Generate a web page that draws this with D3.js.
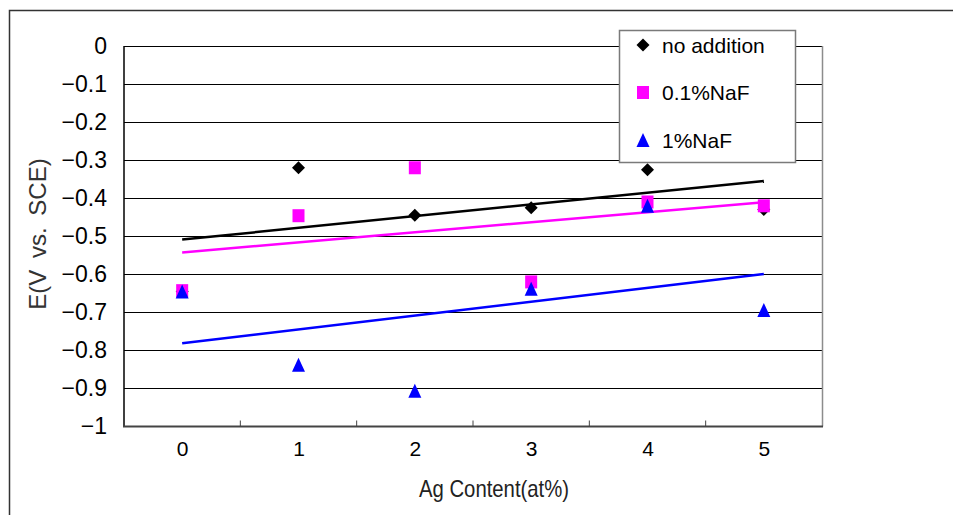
<!DOCTYPE html>
<html>
<head>
<meta charset="utf-8">
<script src="https://cdn.jsdelivr.net/npm/d3@7"></script>
<style>
  html, body { margin: 0; padding: 0; background: #fff; }
  svg { display: block; font-family: "Liberation Sans", Arial, sans-serif; }
</style>
</head>
<body>
<svg id="chart" width="953" height="515"></svg>
<script>
/* ---- data ---- */
const agContent   = [0, 1, 2, 3, 4, 5];
const noAddition  = [-0.645, -0.32, -0.445, -0.425, -0.325, -0.43];
const naf01       = [-0.643, -0.446, -0.32, -0.62, -0.41, -0.42];
const naf1        = [-0.645, -0.838, -0.906, -0.638, -0.42, -0.694];
const yTicks      = [0, -0.1, -0.2, -0.3, -0.4, -0.5, -0.6, -0.7, -0.8, -0.9, -1];
const seriesNames = ["no addition", "0.1%NaF", "1%NaF"];

const series = [
  {name: seriesNames[0], values: noAddition, color: "#000000", shape: "diamond"},
  {name: seriesNames[1], values: naf01,      color: "#FF00FF", shape: "square"},
  {name: seriesNames[2], values: naf1,       color: "#0000FF", shape: "triangle"}
];

const svg = d3.select("#chart");
const plot = {left: 124, right: 822, top: 46, bottom: 426.5};

const x = d3.scaleLinear([-0.5, 5.5], [plot.left, plot.right]);
const y = d3.scaleLinear([-1, 0], [plot.bottom, plot.top]);

/* outer frame (left + top edges only) */
svg.append("path")
  .attr("d", `M9.5,515 V10.5 H953`)
  .attr("fill", "none")
  .attr("stroke", "#333")
  .attr("stroke-width", 1.5);

/* gridlines */
svg.append("g")
  .selectAll("line").data(yTicks.filter(d => d !== -1)).enter().append("line")
    .attr("x1", plot.left).attr("x2", plot.right)
    .attr("y1", d => Math.round(y(d)) + 0.5).attr("y2", d => Math.round(y(d)) + 0.5)
    .attr("stroke", "#000").attr("stroke-width", 1);

/* right plot edge */
svg.append("line")
  .attr("x1", plot.right + 0.5).attr("x2", plot.right + 0.5)
  .attr("y1", plot.top).attr("y2", plot.bottom)
  .attr("stroke", "#8c8c8c").attr("stroke-width", 1.5);

/* y axis */
const fmtY = d => d === 0 ? "0" : "\u2212" + d3.format("")(Math.abs(d));
svg.append("g")
  .attr("transform", `translate(${plot.left},0)`)
  .call(d3.axisLeft(y).tickValues(yTicks).tickSize(0).tickPadding(17).tickFormat(fmtY))
  .call(g => g.select(".domain").attr("stroke", "#000").attr("stroke-width", 1.5)
                .attr("d", `M0,${plot.top}V${plot.bottom}`))
  .call(g => g.selectAll("text").attr("font-size", 23).attr("fill", "#000")
                .attr("font-family", "'Liberation Sans', Arial, sans-serif"));

/* x axis */
svg.append("g")
  .attr("transform", `translate(0,${plot.bottom})`)
  .call(d3.axisBottom(x).tickValues(agContent).tickSize(0).tickPadding(15).tickFormat(d3.format("d")))
  .call(g => g.select(".domain").attr("stroke", "#444").attr("stroke-width", 2)
                .attr("d", `M${plot.left - 1},0H${plot.right + 1}`))
  .call(g => g.selectAll("text").attr("font-size", 21).attr("fill", "#000")
                .attr("font-family", "'Liberation Sans', Arial, sans-serif"));

/* inward ticks between categories */
svg.append("g")
  .selectAll("line").data(agContent.slice(1).map(d => d - 0.5)).enter().append("line")
    .attr("x1", d => x(d)).attr("x2", d => x(d))
    .attr("y1", plot.bottom).attr("y2", plot.bottom - 6)
    .attr("stroke", "#444").attr("stroke-width", 1);

/* axis titles */
svg.append("text")
  .attr("x", 494).attr("y", 497)
  .attr("text-anchor", "middle")
  .attr("font-size", 24)
  .attr("textLength", 150)
  .attr("lengthAdjust", "spacingAndGlyphs")
  .attr("fill", "#222")
  .text("Ag Content(at%)");

svg.append("text")
  .attr("transform", `translate(46,234) rotate(-90)`)
  .attr("text-anchor", "middle")
  .attr("font-size", 24)
  .attr("fill", "#333")
  .attr("word-spacing", 5)
  .text("E(V vs. SCE)");

/* least-squares trendlines */
function fit(vals){
  const mx = d3.mean(agContent), my = d3.mean(vals);
  const sxy = d3.sum(agContent, (a, i) => (a - mx) * (vals[i] - my));
  const sxx = d3.sum(agContent, a => (a - mx) ** 2);
  const b = sxy / sxx;
  return a => my + b * (a - mx);
}
const ends = [agContent[0], agContent[agContent.length - 1]];
svg.append("g")
  .selectAll("line").data(series).enter().append("line")
    .attr("x1", x(ends[0])).attr("x2", x(ends[1]))
    .attr("y1", s => y(fit(s.values)(ends[0])))
    .attr("y2", s => y(fit(s.values)(ends[1])))
    .attr("stroke", s => s.color).attr("stroke-width", 2.5);

/* markers */
function marker(g, shape, color){
  if (shape === "diamond")
    g.append("path").attr("d", "M0,-6.5L6.5,0L0,6.5L-6.5,0Z").attr("fill", color);
  else if (shape === "square")
    g.append("rect").attr("x", -6).attr("y", -6.5).attr("width", 12).attr("height", 13).attr("fill", color);
  else
    g.append("path").attr("d", "M0,-7L6.5,7L-6.5,7Z").attr("fill", color);
}
series.forEach(s => {
  svg.append("g").selectAll("g").data(s.values).enter().append("g")
    .attr("transform", (v, i) => `translate(${x(agContent[i])},${y(v)})`)
    .each(function(){ marker(d3.select(this), s.shape, s.color); });
});

/* legend */
const legend = svg.append("g");
legend.append("rect")
  .attr("x", 619.5).attr("y", 30.5).attr("width", 176).attr("height", 132)
  .attr("fill", "#fff").attr("stroke", "#7a7a7a").attr("stroke-width", 1.5);
const rows = legend.selectAll("g.row").data(series).enter().append("g")
  .attr("class", "row")
  .attr("transform", (s, i) => `translate(643,${45 + i * 47.5})`);
rows.each(function(s){ marker(d3.select(this), s.shape, s.color); });
rows.append("text")
  .attr("x", 19).attr("y", 7.5)
  .attr("font-size", 21)
  .attr("fill", "#000")
  .text(s => s.name);
</script>
</body>
</html>
